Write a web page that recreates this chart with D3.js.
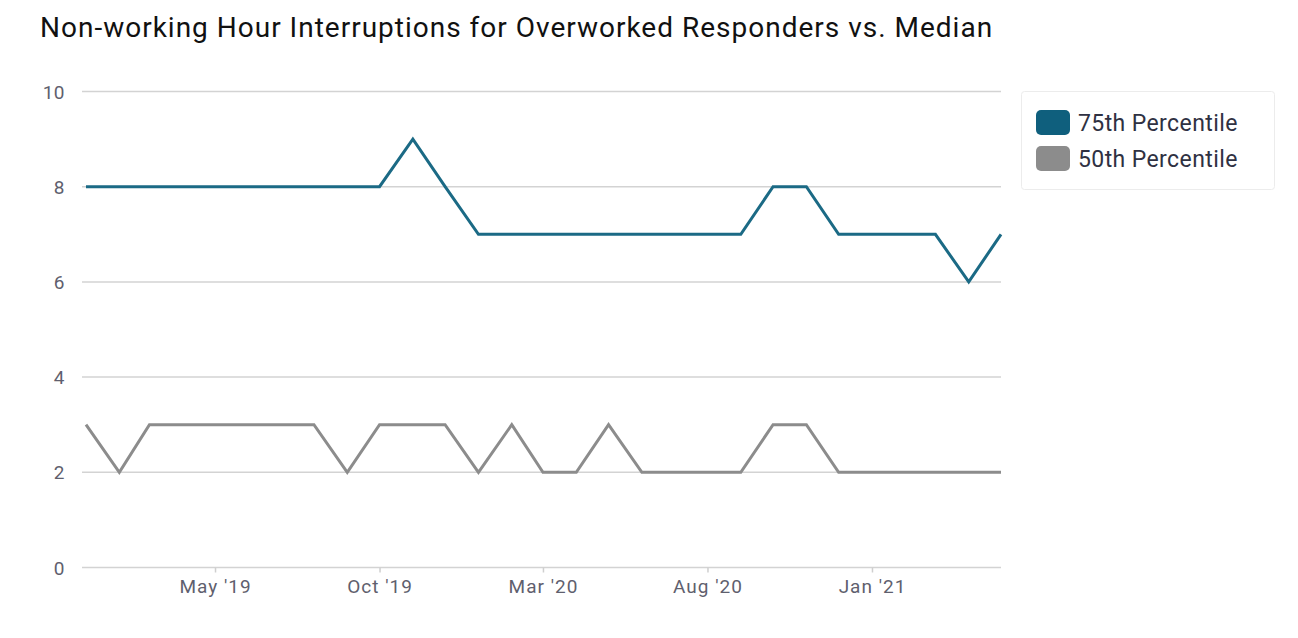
<!DOCTYPE html>
<html>
<head>
<meta charset="utf-8">
<script src="https://cdn.jsdelivr.net/npm/d3@7"></script>
<style>
  body { margin: 0; background: #fff; }
  svg { display: block; }
</style>
</head>
<body>
<div id="chart-area"></div>
<script>
// monthly data, Jan 2019 .. May 2021
var months = ["2019-01","2019-02","2019-03","2019-04","2019-05","2019-06","2019-07","2019-08","2019-09","2019-10","2019-11","2019-12",
              "2020-01","2020-02","2020-03","2020-04","2020-05","2020-06","2020-07","2020-08","2020-09","2020-10","2020-11","2020-12",
              "2021-01","2021-02","2021-03","2021-04","2021-05"];
var p75 = [8,8,8,8,8,8,8,8,8,8,9,8, 7,7,7,7,7,7,7,7,7,8,8,7, 7,7,7,6,7];
var p50 = [3,2,3,3,3,3,3,3,2,3,3,3, 2,3,2,2,3,2,2,2,2,3,3,2, 2,2,2,2,2];
var yTicks = [0, 2, 4, 6, 8, 10];
var xTickMonths = ["2019-05","2019-10","2020-03","2020-08","2021-01"];
var seriesNames = ["75th Percentile", "50th Percentile"];

var W = 1298, H = 638;
var colors = ["#1b6a85", "#8c8c8c"];
var legendColors = ["#0f5f7d", "#8c8c8c"];

var parse = d3.timeParse("%Y-%m");
var dates = months.map(parse);

var svg = d3.select("#chart-area").append("svg")
    .attr("width", W)
    .attr("height", H);

svg.append("text")
    .attr("x", 40)
    .attr("y", 37)
    .attr("font-family", "Roboto, sans-serif")
    .attr("font-size", 28)
    .attr("letter-spacing", 1.0)
    .attr("fill", "#111")
    .text("Non-working Hour Interruptions for Overworked Responders vs. Median");

var x = d3.scaleTime()
    .domain(d3.extent(dates))
    .range([86, 1001]);

var y = d3.scaleLinear()
    .domain([0, 10])
    .range([567.5, 91.5]);

// grid
svg.append("g")
    .selectAll("line").data(yTicks).enter().append("line")
    .attr("x1", 82).attr("x2", 1001)
    .attr("y1", d => y(d)).attr("y2", d => y(d))
    .attr("stroke", "#d3d3d3")
    .attr("stroke-width", 1.5);

// y labels
svg.append("g")
    .selectAll("text").data(yTicks).enter().append("text")
    .attr("x", 65)
    .attr("y", d => y(d) + 7)
    .attr("text-anchor", "end")
    .attr("font-family", "Roboto, sans-serif")
    .attr("font-size", 19)
    .attr("letter-spacing", 0.5)
    .attr("fill", "#5f5f6e")
    .text(d => d);

// x axis
var fmt = d3.timeFormat("%b '%y");
var xAxis = d3.axisBottom(x)
    .tickValues(xTickMonths.map(parse))
    .tickFormat(fmt)
    .tickSize(5)
    .tickSizeOuter(0);

var gx = svg.append("g")
    .attr("transform", "translate(0," + y(0) + ")")
    .call(xAxis);
gx.select(".domain").remove();
gx.selectAll(".tick line").attr("stroke", "#cfcfcf").attr("stroke-width", 1.5);
gx.selectAll(".tick text")
    .attr("y", 12)
    .attr("font-family", "Roboto, sans-serif")
    .attr("font-size", 19)
    .attr("letter-spacing", 1)
    .attr("fill", "#5f5f6e");

// lines
var line = d3.line()
    .x((d, i) => x(dates[i]))
    .y(d => y(d));

[p75, p50].forEach((s, k) => {
    svg.append("path")
        .datum(s)
        .attr("d", line)
        .attr("fill", "none")
        .attr("stroke", colors[k])
        .attr("stroke-width", 3)
        .attr("stroke-linejoin", "miter");
});

// legend
var lg = svg.append("g");
lg.append("rect")
    .attr("x", 1021.5).attr("y", 91.5)
    .attr("width", 253).attr("height", 98)
    .attr("rx", 3)
    .attr("fill", "#fff")
    .attr("stroke", "#ececec");

seriesNames.forEach((n, i) => {
    lg.append("rect")
        .attr("x", 1036).attr("y", 110 + i * 36)
        .attr("width", 34).attr("height", 25)
        .attr("rx", 5)
        .attr("fill", legendColors[i]);
    lg.append("text")
        .attr("x", 1078).attr("y", 131 + i * 36)
        .attr("font-family", "Roboto, sans-serif")
        .attr("font-size", 23)
        .attr("letter-spacing", 0.4)
        .attr("fill", "#2f3142")
        .text(n);
});
</script>
</body>
</html>
